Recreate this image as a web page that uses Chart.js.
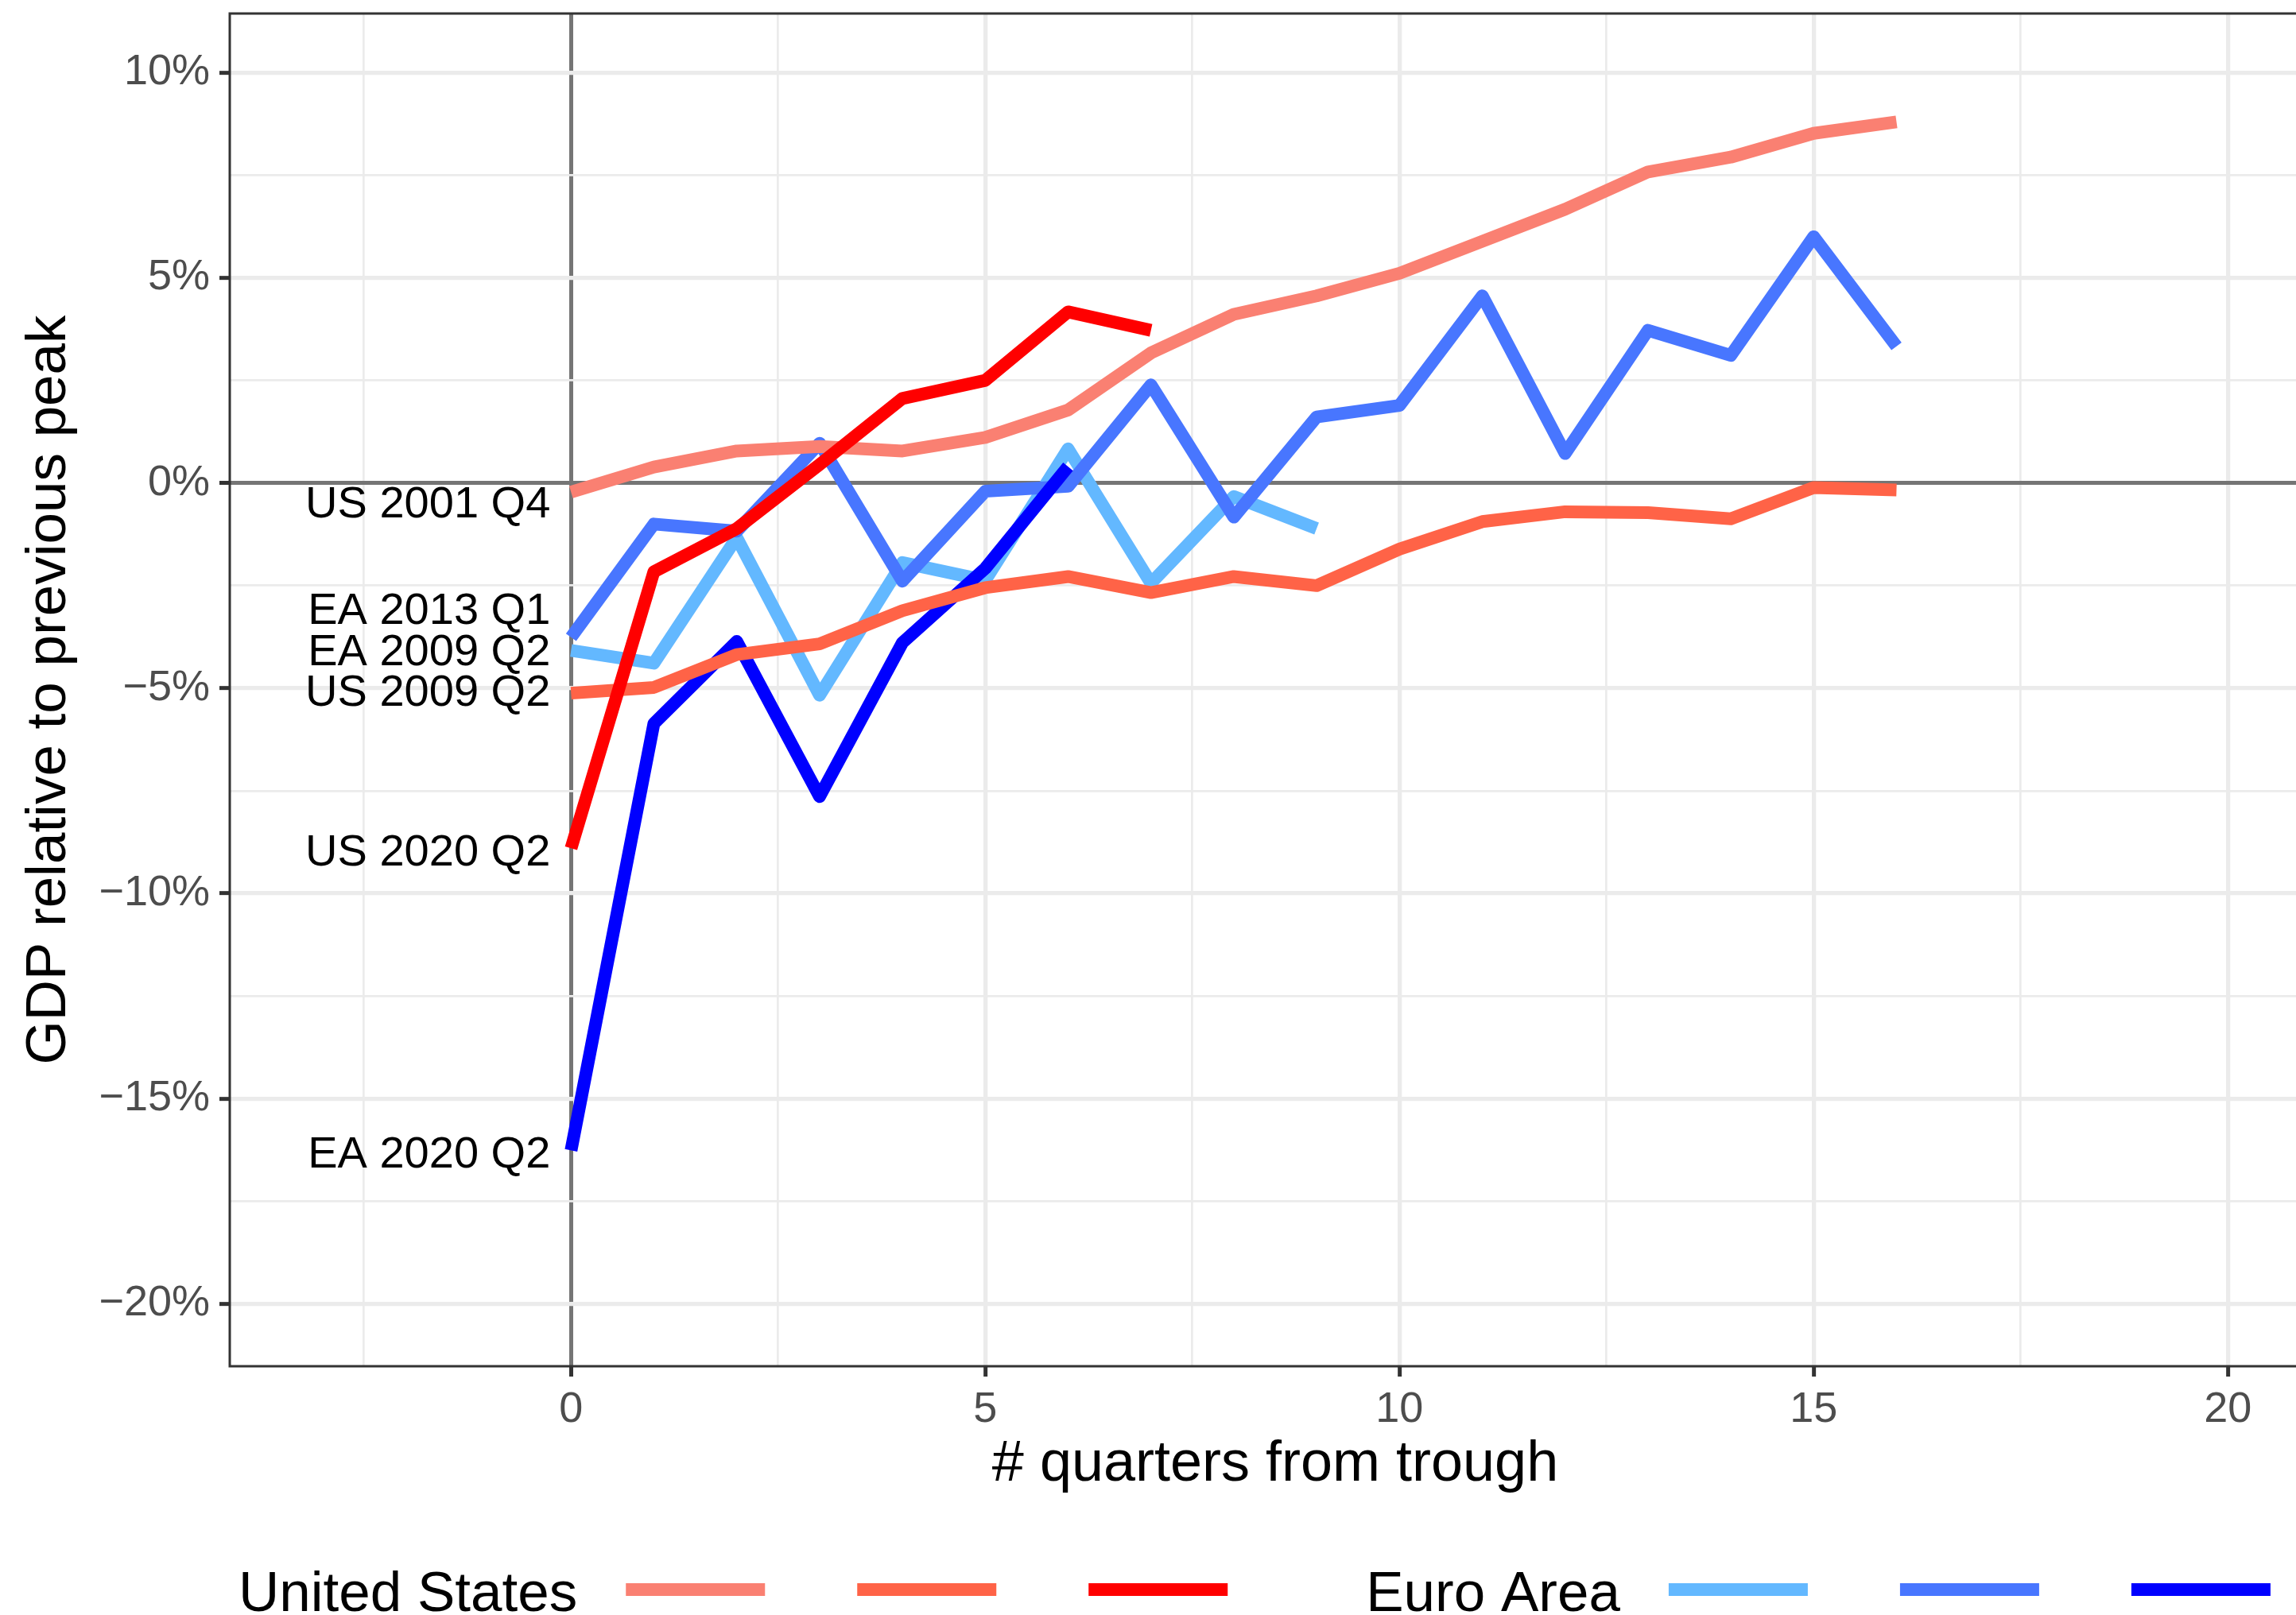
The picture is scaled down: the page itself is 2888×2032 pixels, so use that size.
<!DOCTYPE html>
<html>
<head>
<meta charset="utf-8">
<script src="https://cdn.jsdelivr.net/npm/chart.js@4/dist/chart.umd.min.js"></script>
<style>
  html, body { margin: 0; padding: 0; background: #fff; overflow: hidden; }
  /* the panel runs a little past the right edge in the original, so the canvas is wider and clipped */
  #wrap { width: 2888px; height: 2032px; overflow: hidden; }
  #chart { display: block; }
</style>
</head>
<body>
<div id="wrap"><canvas id="chart" width="2919" height="2032"></canvas></div>
<script>
// --- data (% of previous peak, by quarter from trough) ---
const quarters = [0, 1, 2, 3, 4, 5, 6, 7, 8, 9, 10, 11, 12, 13, 14, 15, 16];

const us2001q4 = [-0.22, 0.39, 0.78, 0.89, 0.78, 1.11, 1.78, 3.17, 4.11, 4.56, 5.11, 5.89, 6.67, 7.58, 7.94, 8.52, 8.8];
const us2009q2 = [-5.12, -4.98, -4.18, -3.92, -3.11, -2.55, -2.28, -2.67, -2.28, -2.5, -1.61, -0.94, -0.7, -0.72, -0.87, -0.11, -0.17];
const us2020q2 = [-8.9, -2.16, -1.11, 0.45, 2.06, 2.5, 4.17, 3.72];
const ea2009q2 = [-4.08, -4.39, -1.33, -5.17, -1.94, -2.37, 0.83, -2.44, -0.33, -1.11];
const ea2013q1 = [-3.76, -1.0, -1.17, 0.97, -2.39, -0.2, -0.08, 2.39, -0.83, 1.61, 1.89, 4.56, 0.72, 3.72, 3.11, 6.0, 3.33];
const ea2020q2 = [-16.26, -5.86, -3.86, -7.64, -3.89, -2.08, 0.4];

const seriesNames = ["US 2001 Q4", "US 2009 Q2", "US 2020 Q2", "EA 2009 Q2", "EA 2013 Q1", "EA 2020 Q2"];
const seriesValues = [us2001q4, us2009q2, us2020q2, ea2009q2, ea2013q1, ea2020q2];
const seriesColors = ["#FA8072", "#FF6347", "#FF0000", "#63B8FF", "#4876FF", "#0000FF"];
const seriesOrder = [2, 1, 0, 5, 4, 3];   // lower = drawn on top
// where the start-of-line labels sit (y, in %), nudged apart like the original
const labelY = [-0.53, -5.13, -9.02, -4.14, -3.13, -16.38];

const legendGroups = [
  { title: "United States", members: [0, 1, 2] },
  { title: "Euro Area", members: [3, 4, 5] }
];

const xTicks = [-2.5, 0, 2.5, 5, 7.5, 10, 12.5, 15, 17.5, 20];
const yTicks = [-20, -17.5, -15, -12.5, -10, -7.5, -5, -2.5, 0, 2.5, 5, 7.5, 10];

const FONT = '"Liberation Sans", Arial, Helvetica, sans-serif';

const datasets = seriesNames.map((name, i) => ({
  label: name,
  data: seriesValues[i].map((v, j) => ({ x: quarters[j], y: v })),
  borderColor: seriesColors[i],
  borderWidth: 16,
  borderJoinStyle: "round",
  borderCapStyle: "butt",
  pointRadius: 0,
  tension: 0,
  fill: false,
  order: seriesOrder[i]
}));

const isMajor = v => Math.abs(v % 5) < 1e-9;

// labels at line starts, panel border and the custom legend
const overlay = {
  id: "overlay",
  afterDatasetsDraw(chart) {
    const { ctx, chartArea: a, scales: { x, y } } = chart;
    ctx.save();

    ctx.strokeStyle = "#333333";
    ctx.lineWidth = 3;
    ctx.strokeRect(a.left, a.top, a.right - a.left, a.bottom - a.top);

    ctx.font = "56px " + FONT;
    ctx.fillStyle = "#000";
    ctx.textAlign = "right";
    ctx.textBaseline = "middle";
    const lx = x.getPixelForValue(0) - 26;
    seriesNames.forEach((n, i) => ctx.fillText(n, lx, y.getPixelForValue(labelY[i])));

    // legend
    ctx.font = "71px " + FONT;
    ctx.textAlign = "left";
    ctx.textBaseline = "alphabetic";
    let cx = 300;
    const baseY = 2027, keyY = 2000, keyW = 175, keyGap = 116;
    legendGroups.forEach(g => {
      ctx.fillText(g.title, cx, baseY);
      cx += ctx.measureText(g.title).width + 61;
      g.members.forEach((m, k) => {
        ctx.strokeStyle = chart.data.datasets[m].borderColor;
        ctx.lineWidth = 16;
        ctx.lineCap = "butt";
        ctx.beginPath();
        ctx.moveTo(cx, keyY);
        ctx.lineTo(cx + keyW, keyY);
        ctx.stroke();
        cx += keyW + (k < g.members.length - 1 ? keyGap : 174);
      });
    });
    ctx.restore();
  }
};

new Chart(document.getElementById("chart"), {
  type: "line",
  data: { datasets },
  plugins: [overlay],
  options: {
    responsive: false,
    animation: false,
    devicePixelRatio: 1,
    layout: { padding: { top: 17, right: 0, bottom: 0, left: 0 } },
    plugins: { legend: { display: false }, tooltip: { enabled: false } },
    scales: {
      x: {
        type: "linear",
        min: -4.12,
        max: 21.12,
        afterBuildTicks: s => { s.ticks = xTicks.map(v => ({ value: v })); },
        afterFit: s => { s.height = 313; s.paddingLeft = 0; s.paddingRight = 0; },
        border: { display: false },
        grid: {
          color: c => c.tick.value === 0 ? "#757575" : "#EBEBEB",
          lineWidth: c => c.tick.value === 0 ? 5 : (isMajor(c.tick.value) ? 5.3 : 2.7),
          tickColor: c => isMajor(c.tick.value) ? "#333333" : "rgba(0,0,0,0)",
          tickLength: 13,
          tickWidth: 5
        },
        ticks: {
          autoSkip: false,
          maxRotation: 0,
          padding: 10,
          color: "#4D4D4D",
          font: { family: FONT, size: 54 },
          callback: v => isMajor(v) ? String(v) : ""
        },
        title: {
          display: true,
          text: "# quarters from trough",
          color: "#000",
          font: { family: FONT, size: 72 },
          padding: { top: 0, bottom: 146 }
        }
      },
      y: {
        type: "linear",
        min: -21.52,
        max: 11.44,
        afterBuildTicks: s => { s.ticks = yTicks.map(v => ({ value: v })); },
        afterFit: s => { s.width = 289; s.paddingTop = 0; s.paddingBottom = 0; },
        border: { display: false },
        grid: {
          color: c => c.tick.value === 0 ? "#757575" : "#EBEBEB",
          lineWidth: c => c.tick.value === 0 ? 5 : (isMajor(c.tick.value) ? 5.3 : 2.7),
          tickColor: c => isMajor(c.tick.value) ? "#333333" : "rgba(0,0,0,0)",
          tickLength: 13,
          tickWidth: 5
        },
        ticks: {
          padding: 12,
          color: "#4D4D4D",
          font: { family: FONT, size: 54 },
          callback: v => isMajor(v) ? (v < 0 ? "\u2212" + Math.abs(v) : String(v)) + "%" : ""
        },
        title: {
          display: true,
          text: "GDP relative to previous peak",
          color: "#000",
          font: { family: FONT, size: 71 },
          padding: { top: 20, bottom: 0 }
        }
      }
    }
  }
});
</script>
</body>
</html>
